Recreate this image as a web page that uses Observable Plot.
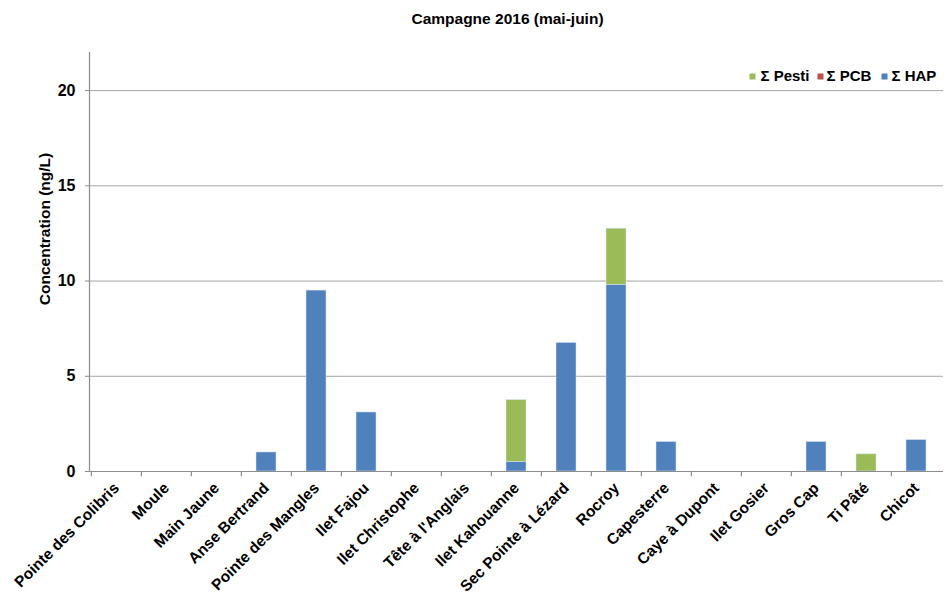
<!DOCTYPE html>
<html><head><meta charset="utf-8">
<script src="https://cdn.jsdelivr.net/npm/d3@7"></script>
<script src="https://cdn.jsdelivr.net/npm/@observablehq/plot@0.6"></script>
<style>
body{margin:0;background:#fff;}
svg{font-family:"Liberation Sans",Arial,sans-serif;}
</style>
</head><body><div id="chart"></div>
<script>
const title = "Campagne 2016 (mai-juin)";
const yLabel = "Concentration (ng/L)";
const sites = ["Pointe des Colibris","Moule","Main Jaune","Anse Bertrand","Pointe des Mangles","Ilet Fajou","Ilet Christophe","Tête à l'Anglais","Ilet Kahouanne","Sec Pointe à Lézard","Rocroy","Capesterre","Caye à Dupont","Ilet Gosier","Gros Cap","Ti Pâté","Chicot"];
const seriesNames = ["Σ Pesti","Σ PCB","Σ HAP"];
const seriesColors = ["#9BBB59","#C0504D","#4F81BD"];
const hap   = [0,0,0,1.0,9.5,3.1,0,0,0.5,6.75,9.8,1.55,0,0,1.55,0,1.65];
const pcb   = [0,0,0,0,0,0,0,0,0,0,0,0,0,0,0,0,0];
const pesti = [0,0,0,0,0,0,0,0,3.25,0,2.95,0,0,0,0,0.9,0];
const yTicks = [0,5,10,15,20];

const data = [];
sites.forEach((s,i)=>{
  data.push({site:s, series:"Σ HAP", value:hap[i]});
  data.push({site:s, series:"Σ PCB", value:pcb[i]});
  data.push({site:s, series:"Σ Pesti", value:pesti[i]});
});

const W=944, H=594, mL=89, mR=1, mT=52, mB=123;
const step=(W-mL-mR)/sites.length;
const font={fontFamily:"Liberation Sans, Arial, sans-serif", fontWeight:"bold"};

const legendOffsets=[{sq:-191,tx:-183},{sq:-123,tx:-117},{sq:-59,tx:-52}];
const legendMarks=[];
seriesNames.forEach((n,i)=>{
  legendMarks.push(Plot.dot([n],{frameAnchor:"top-right",dx:legendOffsets[i].sq,dy:24,symbol:"square",r:3.4,fill:seriesColors[i],stroke:null}));
  legendMarks.push(Plot.text([n],{frameAnchor:"top-right",dx:legendOffsets[i].tx,dy:24,lineAnchor:"middle",text:d=>d,textAnchor:"start",fontSize:15,...font,fill:"#000"}));
});

const chart = Plot.plot({
  width:W, height:H, marginLeft:mL, marginRight:mR, marginTop:mT, marginBottom:mB,
  style:{background:"#fff", color:"#000"},
  x:{domain:sites, paddingInner:0.6, paddingOuter:0.3, label:null},
  y:{domain:[0,22], label:null},
  color:{domain:seriesNames, range:seriesColors},
  marks:[
    Plot.ruleY(yTicks.filter(d=>d>0),{stroke:"#a6a6a6", strokeWidth:1}),
    Plot.barY(data,{x:"site", y:"value", fill:"series", stroke:"#dce6f2", strokeWidth:0.5}),
    Plot.ruleY([0],{stroke:"#8c8c8c", strokeWidth:1.2}),
    Plot.frame({anchor:"left", stroke:"#8c8c8c", strokeWidth:1.2}),
    Plot.ruleX(sites,{x:d=>d, y1:0, y2:-0.27, dx:-step/2, stroke:"#8c8c8c", strokeWidth:1.2, clip:false}),
    Plot.axisY({ticks:yTicks, tickSize:4, tickPadding:10, fontSize:16, ...font, stroke:"#8c8c8c", label:null}),
    Plot.axisX({tickSize:0, tickRotate:-45, tickPadding:14, fontSize:15.5, ...font, label:null}),
    Plot.text([title],{frameAnchor:"top", dx:-9, dy:-33, lineAnchor:"middle", text:d=>d, fontSize:15.5, ...font, fill:"#000"}),
    Plot.text([yLabel],{frameAnchor:"left", dx:-44, dy:-33, rotate:-90, textAnchor:"middle", text:d=>d, fontSize:15.5, ...font, fill:"#000"}),
    ...legendMarks
  ]
});
document.getElementById("chart").appendChild(chart);
</script>
</body></html>
